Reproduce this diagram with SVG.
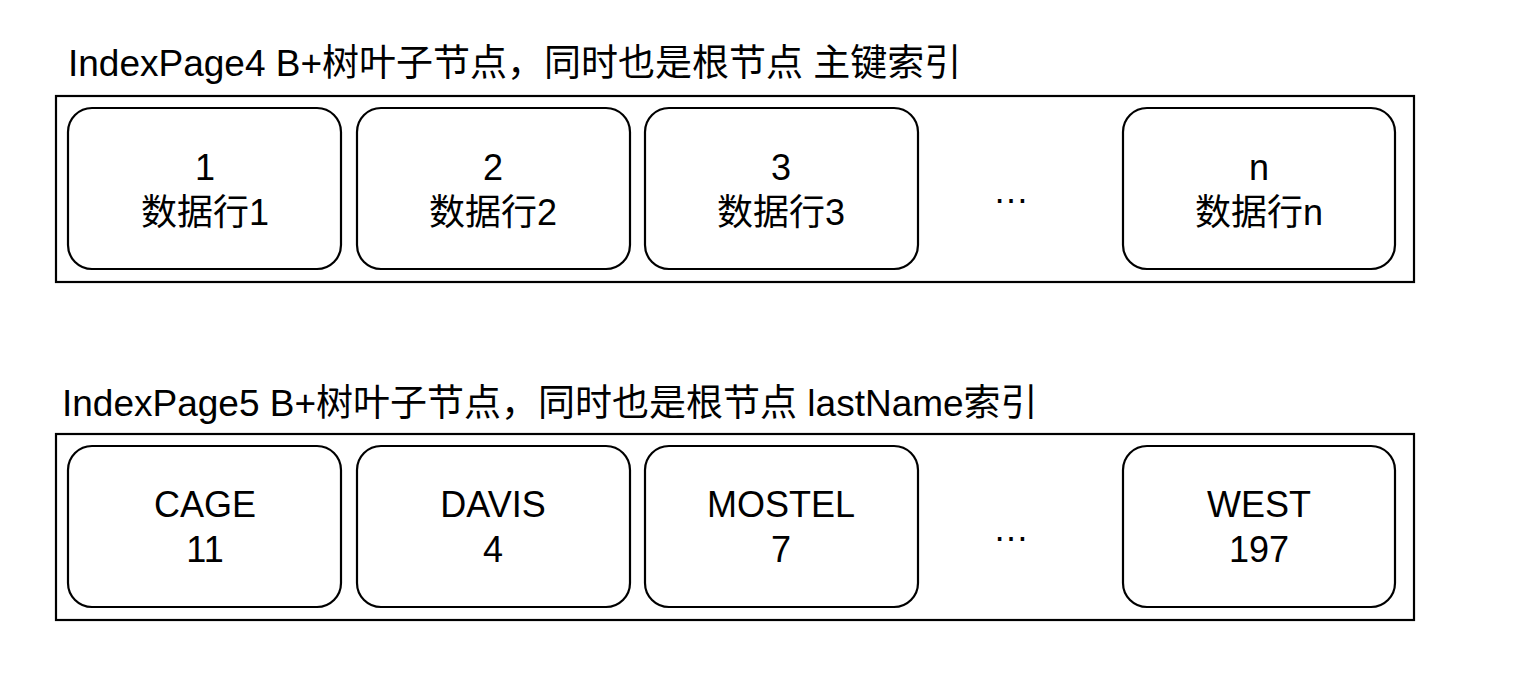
<svg xmlns="http://www.w3.org/2000/svg" width="1526" height="676" viewBox="0 0 1526 676">
<style>
text{font-family:"Liberation Sans","Noto Sans CJK SC",sans-serif;fill:#000;}
.t{font-size:37px;}
.n{font-size:36px;text-anchor:middle;}
.outer{fill:#fff;stroke:#000;stroke-width:2.2;}
.cell{fill:#fff;stroke:#000;stroke-width:2.2;}
</style>
<rect width="1526" height="676" fill="#fff"/>
<g id="title1"><text class="t" x="68" y="76">IndexPage4 B+树叶子节点，同时也是根节点 主键索引</text></g>
<g id="page4">
<rect class="outer" x="56" y="96" width="1358" height="186"/>
</g>
<g id="p4n1"><rect class="cell" x="68" y="108" width="273" height="161" rx="24"/><text class="n" x="205" y="180">1</text><text class="n" x="205" y="225">数据行1</text></g>
<g id="p4n2"><rect class="cell" x="357" y="108" width="273" height="161" rx="24"/><text class="n" x="493" y="180">2</text><text class="n" x="493" y="225">数据行2</text></g>
<g id="p4n3"><rect class="cell" x="645" y="108" width="273" height="161" rx="24"/><text class="n" x="781" y="180">3</text><text class="n" x="781" y="225">数据行3</text></g>
<g id="p4dots"><text class="n" x="1011" y="203">…</text></g>
<g id="p4n4"><rect class="cell" x="1123" y="108" width="272" height="161" rx="24"/><text class="n" x="1259" y="180">n</text><text class="n" x="1259" y="225">数据行n</text></g>
<g id="title2"><text class="t" x="62" y="416">IndexPage5 B+树叶子节点，同时也是根节点 lastName索引</text></g>
<g id="page5">
<rect class="outer" x="56" y="434" width="1358" height="186"/>
</g>
<g id="p5n1"><rect class="cell" x="68" y="446" width="273" height="161" rx="24"/><text class="n" x="205" y="517">CAGE</text><text class="n" x="205" y="562">11</text></g>
<g id="p5n2"><rect class="cell" x="357" y="446" width="273" height="161" rx="24"/><text class="n" x="493" y="517">DAVIS</text><text class="n" x="493" y="562">4</text></g>
<g id="p5n3"><rect class="cell" x="645" y="446" width="273" height="161" rx="24"/><text class="n" x="781" y="517">MOSTEL</text><text class="n" x="781" y="562">7</text></g>
<g id="p5dots"><text class="n" x="1011" y="541">…</text></g>
<g id="p5n4"><rect class="cell" x="1123" y="446" width="272" height="161" rx="24"/><text class="n" x="1259" y="517">WEST</text><text class="n" x="1259" y="562">197</text></g>
<g id="connectors"></g>
</svg>
